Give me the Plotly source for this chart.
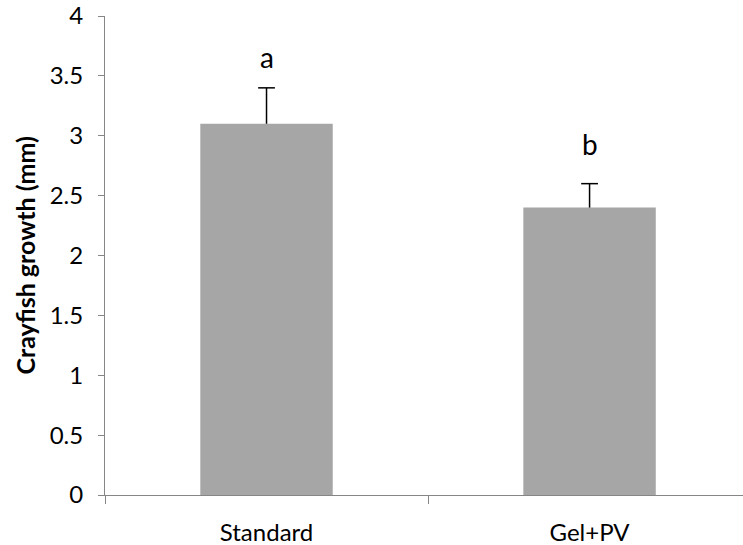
import plotly.graph_objects as go

categories = ["Standard", "Gel+PV"]
growth = [3.1, 2.4]
errors = [0.3, 0.2]
letters = ["a", "b"]
letter_y = [3.66, 2.93]
y_ticks = [0, 0.5, 1, 1.5, 2, 2.5, 3, 3.5, 4]
y_tick_text = ["0", "0.5", "1", "1.5", "2", "2.5", "3", "3.5", "4"]
y_title = "Crayfish growth (mm)"

FONT = "Lato, Carlito, Calibri, sans-serif"
AXIS_COLOR = "#868686"

fig = go.Figure()
fig.add_trace(go.Bar(
    x=categories,
    y=growth,
    width=0.41,
    marker=dict(color="#A6A6A6", line=dict(width=0)),
    hoverinfo="skip",
))

# upper-only error bars: whisker line + cap marker
for c, v, e in zip(categories, growth, errors):
    fig.add_trace(go.Scatter(
        x=[c, c], y=[v, v + e], mode="lines",
        line=dict(color="black", width=1.5), hoverinfo="skip",
    ))
    fig.add_trace(go.Scatter(
        x=[c], y=[v + e], mode="markers",
        marker=dict(symbol="line-ew", size=12, line=dict(color="black", width=1.5)),
        hoverinfo="skip",
    ))

for c, t, yy in zip(categories, letters, letter_y):
    fig.add_annotation(x=c, y=yy, text=t, showarrow=False, xanchor="center",
                       yanchor="middle", font=dict(family=FONT, size=28, color="black"))

W, H = 743, 545
L, R, T, B = 105, 0, 16, 50
plot_w = W - L - R
fig.add_annotation(
    xref="paper", yref="paper", x=(24 - L) / plot_w, y=0.5,
    text="<b>" + y_title + "</b>", textangle=-90, showarrow=False,
    xanchor="center", yanchor="middle",
    font=dict(family=FONT, size=25, color="black"),
)

fig.update_layout(
    width=W, height=H,
    margin=dict(l=L, r=R, t=T, b=B),
    plot_bgcolor="white", paper_bgcolor="white",
    showlegend=False,
    font=dict(family=FONT, size=24, color="black"),
    xaxis=dict(
        type="category", range=[-0.5, 1.475], automargin=False,
        showline=True, linecolor=AXIS_COLOR, linewidth=1,
        ticks="outside", tickson="boundaries", ticklen=8, tickcolor=AXIS_COLOR,
        showgrid=False, zeroline=False, ticklabelstandoff=16,
        tickfont=dict(family=FONT, size=24, color="black"),
    ),
    yaxis=dict(
        range=[0, 4], tickvals=y_ticks, ticktext=y_tick_text, automargin=False,
        showline=True, linecolor=AXIS_COLOR, linewidth=1,
        ticks="outside", ticklen=6, tickcolor=AXIS_COLOR,
        showgrid=False, zeroline=False, ticklabelstandoff=10,
        ticklabeloverflow="allow",
        tickfont=dict(family=FONT, size=24, color="black"),
    ),
)

fig.write_html(
    "out.html",
    config={"displayModeBar": False},
    post_script="document.body.style.margin='0px';document.body.style.overflow='hidden';",
)
